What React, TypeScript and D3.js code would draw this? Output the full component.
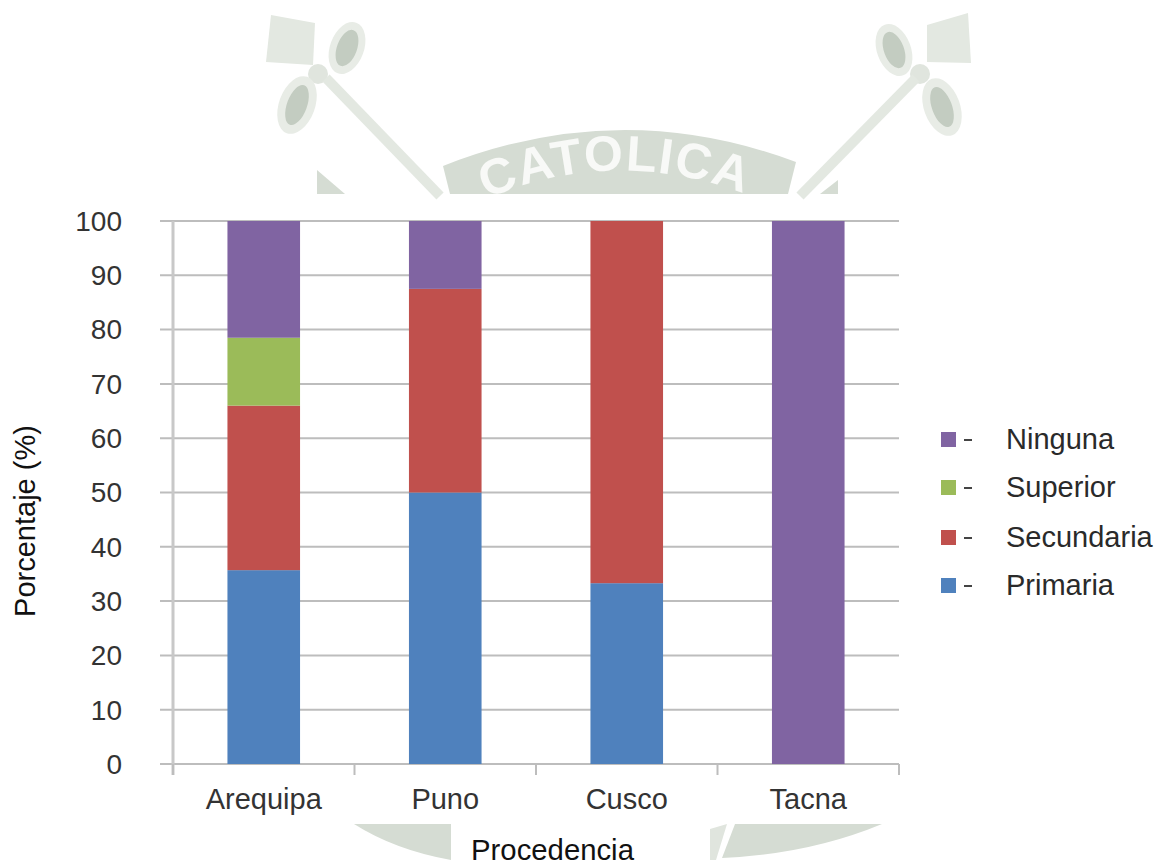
import React from "react";
import * as d3 from "d3";

const categories = ["Arequipa", "Puno", "Cusco", "Tacna"];
const primaria = [35.7, 50, 33.3, 0];
const secundaria = [30.3, 37.5, 66.7, 0];
const superior = [12.5, 0, 0, 0];
const ninguna = [21.5, 12.5, 0, 100];
const seriesNames = ["Primaria", "Secundaria", "Superior", "Ninguna"];
const seriesColors = ["#4f81bd", "#c0504d", "#9bbb59", "#8064a2"];
const yTicks = [0, 10, 20, 30, 40, 50, 60, 70, 80, 90, 100];
const legendOrder = ["Ninguna", "Superior", "Secundaria", "Primaria"];
const legendRows = [439, 487, 537, 585];

const FONT = "'Liberation Sans', Arial, sans-serif";
const SEAL = "#d5dcd3";
const SEAL_DARK = "#c3ccc1";

const rows = categories.map((c, i) => ({
  cat: c,
  Primaria: primaria[i],
  Secundaria: secundaria[i],
  Superior: superior[i],
  Ninguna: ninguna[i],
}));

// Crest printed behind the chart: flags, rosettes and staffs on both sides of the band.
function Crest() {
  const side = (flag: string, o1: number[], knot: number[], o2: number[], staff: number[], wedge: string, rot: number) => (
    <g>
      <polygon points={flag} fill="#e3e8e1" />
      <ellipse cx={o1[0]} cy={o1[1]} rx={17} ry={27} transform={`rotate(${rot} ${o1[0]} ${o1[1]})`} fill="#e8ece6" />
      <ellipse cx={o1[0]} cy={o1[1]} rx={10} ry={19} transform={`rotate(${rot} ${o1[0]} ${o1[1]})`} fill={SEAL_DARK} />
      <circle cx={knot[0]} cy={knot[1]} r={10} fill="#e0e5de" />
      <ellipse cx={o2[0]} cy={o2[1]} rx={18} ry={30} transform={`rotate(${rot} ${o2[0]} ${o2[1]})`} fill="#e8ece6" />
      <ellipse cx={o2[0]} cy={o2[1]} rx={10} ry={21} transform={`rotate(${rot} ${o2[0]} ${o2[1]})`} fill={SEAL_DARK} />
      <line x1={staff[0]} y1={staff[1]} x2={staff[2]} y2={staff[3]} stroke="#e3e8e1" strokeWidth={10} />
      <polygon points={wedge} fill={SEAL} />
    </g>
  );
  return (
    <g>
      {side("271,15 315,23 313,65 266,62", [347, 48], [318, 74], [297, 105], [326, 78, 440, 196], "317,170 345,194 317,194", 20)}
      {side("968,13 927,25 927,62 971,63", [894, 50], [920, 74], [942, 107], [916, 78, 800, 196], "838,180 838,194 820,194", -20)}
      <path d="M443,166 Q620,96 796,162 L788,194 L450,194 Z" fill={SEAL} />
      <defs>
        <path id="crest-arc" d="M486,199 Q620,142 757,199" />
        <clipPath id="crest-clip"><rect x={0} y={0} width={1158} height={194} /></clipPath>
      </defs>
      <g clipPath="url(#crest-clip)">
        <text fontFamily={FONT} fontSize={50} fontWeight={700} fill="#f8f9f7" letterSpacing={1.5}>
          <textPath href="#crest-arc">CATOLICA</textPath>
        </text>
      </g>
      <path d="M354,824 Q395,850 451,860 L451,824 Z" fill={SEAL} />
      <path d="M735,824 L882,824 Q810,854 722,858 Z" fill={SEAL} />
      <path d="M710,829 L727,824 L716,860 L710,860 Z" fill="#e0e5de" />
    </g>
  );
}

export default function App() {
  const x = d3.scaleBand<string>().domain(categories).range([173, 899]).paddingInner(0.6).paddingOuter(0.3);
  const y = d3.scaleLinear().domain([0, 100]).range([764, 221]);
  const stacked = d3.stack<any>().keys(seriesNames)(rows);
  const color = d3.scaleOrdinal<string, string>().domain(seriesNames).range(seriesColors);
  const edges = d3.range(categories.length + 1).map((i) => 173 + (i * 726) / categories.length);

  return (
    <svg width={1158} height={866} style={{ position: "absolute", left: 0, top: 0, background: "#fff" }}>
      <Crest />
      <g stroke="#bdbdbd" strokeWidth={2}>
        {yTicks.map((t) => (
          <line key={t} x1={160} x2={899} y1={y(t)} y2={y(t)} />
        ))}
        <line x1={173} x2={173} y1={221} y2={775} stroke="#c8c8c8" strokeWidth={3} />
        {edges.map((e) => (
          <line key={e} x1={e} x2={e} y1={764} y2={775} />
        ))}
      </g>
      {stacked.map((s) => (
        <g key={s.key} fill={color(s.key)}>
          {s.map((d) => (
            <rect key={d.data.cat} x={x(d.data.cat)} width={x.bandwidth()} y={y(d[1])} height={y(d[0]) - y(d[1])} />
          ))}
        </g>
      ))}
      <g fontFamily={FONT} fontSize={28} fill="#333">
        {yTicks.map((t) => (
          <text key={t} x={122} y={y(t)} dy="0.35em" textAnchor="end">{t}</text>
        ))}
      </g>
      <g fontFamily={FONT} fontSize={29} fill="#333">
        {categories.map((c) => (
          <text key={c} x={x(c)! + x.bandwidth() / 2} y={809} textAnchor="middle">{c}</text>
        ))}
      </g>
      <text x={552.5} y={860} textAnchor="middle" fontFamily={FONT} fontSize={29.3} fill="#111">Procedencia</text>
      <text transform="translate(35,521) rotate(-90)" textAnchor="middle" fontFamily={FONT} fontSize={29} fill="#111">Porcentaje (%)</text>
      {legendOrder.map((n, i) => (
        <g key={n}>
          <rect x={941} y={legendRows[i] - 7} width={15} height={15} fill={color(n)} />
          <line x1={964} x2={972} y1={legendRows[i] + 1} y2={legendRows[i] + 1} stroke="#444" strokeWidth={2} />
          <text x={1006} y={legendRows[i]} dy="0.35em" fontFamily={FONT} fontSize={29} fill="#2a2a2a">{n}</text>
        </g>
      ))}
    </svg>
  );
}
